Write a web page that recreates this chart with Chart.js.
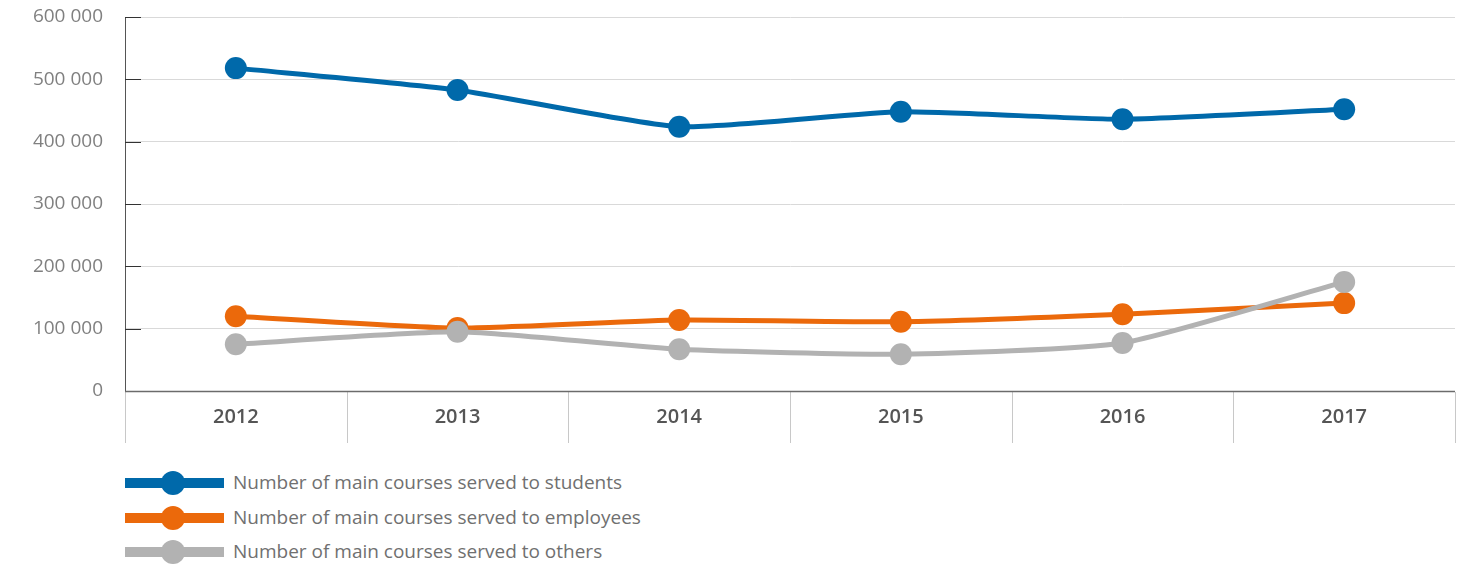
<!DOCTYPE html>
<html>
<head>
<meta charset="utf-8">
<script src="https://cdn.jsdelivr.net/npm/chart.js@4"></script>
<style>
  html, body { margin: 0; padding: 0; background: #fff; }
  body { width: 1459px; height: 566px; position: relative; overflow: hidden; font-family: "Open Sans", sans-serif; }
  #wrap { position: absolute; left: 0; top: 0; width: 1466px; height: 450px; }
  #legend { position: absolute; left: 125px; top: 466px; }
  .item { position: relative; height: 34.5px; }
  .swatch { position: absolute; left: 0; top: 12px; width: 99px; height: 10px; }
  .dot { position: absolute; left: 36px; top: -7px; width: 24px; height: 24px; border-radius: 50%; }
  .label { position: absolute; left: 108px; top: 4px; font-size: 19px; color: #707070; white-space: nowrap; line-height: 24px; }
</style>
</head>
<body>
<div id="wrap"><canvas id="c"></canvas></div>
<div id="legend"></div>
<script>
const categories = ["2012", "2013", "2014", "2015", "2016", "2017"];
const students = [518000, 483000, 424000, 448000, 436000, 452000];
const employees = [120000, 101000, 114000, 111000, 123000, 141000];
const others = [75000, 95000, 67000, 59000, 77000, 175000];
const seriesNames = [
  "Number of main courses served to students",
  "Number of main courses served to employees",
  "Number of main courses served to others"
];
const colors = ["#0069aa", "#eb690b", "#b2b2b2"];
const yTicks = [0, 100000, 200000, 300000, 400000, 500000, 600000];

function fmt(v) { return String(v).replace(/\B(?=(\d{3})+(?!\d))/g, " "); }

const decor = {
  id: "decor",
  afterDatasetsDraw(chart) {
    const ctx = chart.ctx;
    const x = chart.scales.x, y = chart.scales.y;
    ctx.save();
    ctx.strokeStyle = "#333";
    ctx.lineWidth = 1;
    y.ticks.forEach(t => {
      const py = Math.round(y.getPixelForValue(t.value)) + 0.5;
      ctx.beginPath();
      ctx.moveTo(x.left, py);
      ctx.lineTo(x.left + 16, py);
      ctx.stroke();
    });
    ctx.strokeStyle = "#c8c8c8";
    const n = categories.length;
    const step = (x.right - x.left) / n;
    for (let i = 0; i <= n; i++) {
      const px = Math.round(x.left + i * step) + 0.5;
      ctx.beginPath();
      ctx.moveTo(px, y.bottom + 1);
      ctx.lineTo(px, y.bottom + 52);
      ctx.stroke();
    }
    ctx.strokeStyle = "#6b6b6b";
    ctx.lineWidth = 1.5;
    ctx.beginPath();
    ctx.moveTo(x.left, y.bottom + 0.5);
    ctx.lineTo(x.right, y.bottom + 0.5);
    ctx.stroke();
    ctx.restore();
  }
};

const datasets = [students, employees, others].map((d, i) => ({
  label: seriesNames[i],
  data: d,
  borderColor: colors[i],
  backgroundColor: colors[i],
  borderWidth: 5,
  pointRadius: 11,
  pointHoverRadius: 11,
  pointBorderWidth: 0,
  tension: 0.18,
  order: 3 - i
}));

new Chart(document.getElementById("c"), {
  type: "line",
  data: { labels: categories, datasets },
  options: {
    responsive: true,
    maintainAspectRatio: false,
    animation: false,
    layout: { padding: { left: 0, right: 0, top: 17, bottom: 0 } },
    plugins: { legend: { display: false }, tooltip: { enabled: false } },
    scales: {
      x: {
        offset: true,
        grid: { display: false },
        border: { display: false },
        ticks: { color: "#555", font: { family: "Open Sans", size: 20, weight: "600" }, padding: 6 },
        afterFit(s) { s.height = 59; s.paddingLeft = 0; s.paddingRight = 0; }
      },
      y: {
        min: 0, max: 600000,
        afterBuildTicks(s) { s.ticks = yTicks.map(v => ({ value: v })); },
        grid: { color: "#d9d9d9", lineWidth: 1, drawTicks: false },
        border: { display: true, color: "#555", width: 1 },
        ticks: { color: "#808080", font: { family: "Open Sans", size: 19 }, padding: 22, callback: v => fmt(v) },
        afterFit(s) { s.width = 125; s.paddingTop = 0; s.paddingBottom = 0; }
      }
    }
  },
  plugins: [decor]
});

const legend = document.getElementById("legend");
seriesNames.forEach((name, i) => {
  const it = document.createElement("div");
  it.className = "item";
  it.innerHTML = '<div class="swatch" style="background:' + colors[i] + '"><div class="dot" style="background:' + colors[i] + '"></div></div><div class="label">' + name + '</div>';
  legend.appendChild(it);
});
</script>
</body>
</html>
